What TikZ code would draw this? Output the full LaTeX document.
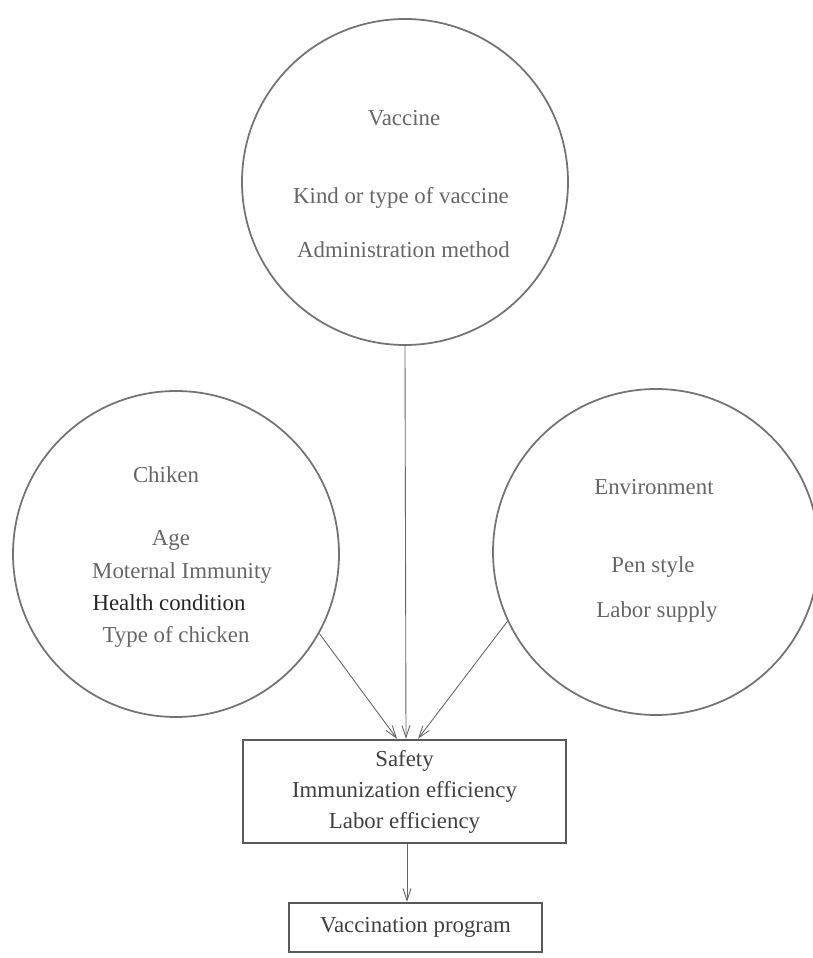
\documentclass[tikz,border=0pt]{standalone}
\usepackage{fontspec}
\setmainfont{Liberation Serif}
\usepackage{tikz}
\usetikzlibrary{calc, arrows.meta}

\begin{document}
\begin{tikzpicture}[
        factor/.style = {circle, draw = black!55, line width = 1pt, minimum size = 6.52cm, inner sep = 0pt},
        outcome/.style = {draw = black!65, line width = 1.4pt, align = center, inner sep = 0pt, text = black!75, font = \fontsize{13pt}{17.6pt}\selectfont},
        label/.style = {text = black!60, font = \fontsize{13pt}{15.6pt}\selectfont},
        link/.style = {black!60, line width = 0.5pt, -{Straight Barb[length = 2.4mm, width = 1.6mm]}}
    ]
            \useasboundingbox (0, 0) rectangle (16.24, 19.16);
            
            % the three groups of factors
            \node[factor] (vaccine) at (8.1, 15.52) {};
            \node[label] (vactitle) at (8.08, 16.8) {Vaccine};
            \node[label] (vackind) at (8.02, 15.2) {Kind or type of vaccine};
            \node[label] (vacmethod) at (8.07, 14.16) {Administration method};
            
            \node[factor] (chicken) at (3.52, 8.08) {};
            \node[label] (chktitle) at (3.32, 9.66) {Chiken};
            \node[label] (chkage) at (3.42, 8.36) {Age};
            \node[label] (chkimmun) at (3.64, 7.7) {Moternal Immunity};
            \node[label, text = black!85] (chkhealth) at (3.38, 7.1) {Health condition};
            \node[label] (chktype) at (3.52, 6.42) {Type of chicken};
            
            \node[factor] (environ) at (13.12, 8.12) {};
            \node[label] (envtitle) at (13.08, 9.42) {Environment};
            \node[label] (envpen) at (13.06, 7.82) {Pen style};
            \node[label] (envlabor) at (13.14, 6.92) {Labor supply};
            
            % criteria and program
            \node[outcome, minimum width = 6.46cm, minimum height = 2.06cm] (criteria) at (8.09, 3.33) {Safety \\ Immunization efficiency \\ Labor efficiency};
            \node[outcome, minimum width = 5.06cm, minimum height = 0.98cm] (program) at (8.31, 0.61) {Vaccination program};
            
            \draw[link] (vaccine.south) -- ($(criteria.north)+(0.03, 0)$);
            \draw[link] (chicken.-29.4) -- ($(criteria.north)+(-0.15, 0)$);
            \draw[link] (environ.-155.8) -- ($(criteria.north)+(0.27, 0)$);
            \draw[link] ($(criteria.south)+(0.05, 0)$) -- ($(program.north)+(-0.17, 0)$);
\end{tikzpicture}
\end{document}
